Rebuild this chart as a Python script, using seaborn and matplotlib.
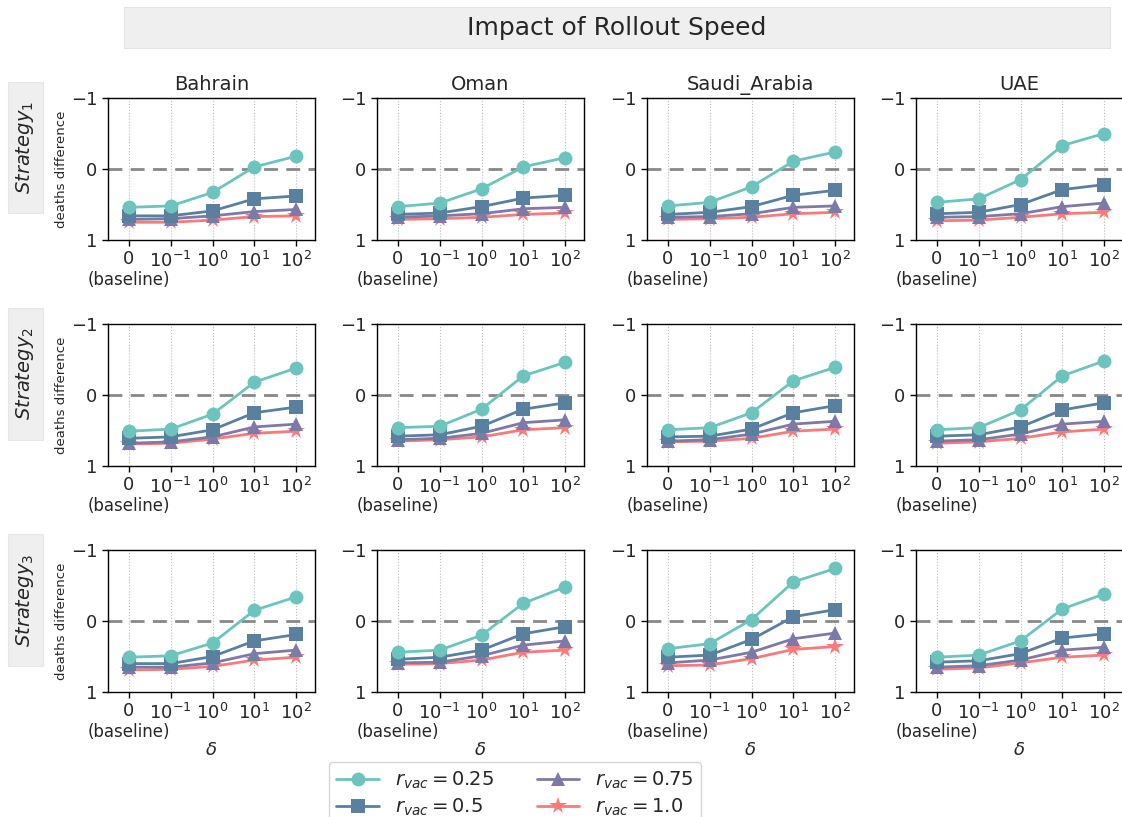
import numpy as np
import pandas as pd
import matplotlib
matplotlib.use("Agg")
import matplotlib.pyplot as plt
from matplotlib.lines import Line2D
from matplotlib.patches import Rectangle
import seaborn as sns

countries = ["Bahrain", "Oman", "Saudi_Arabia", "UAE"]
strategies = ["$Strategy_1$", "$Strategy_2$", "$Strategy_3$"]
x_labels = ["0", "$10^{-1}$", "$10^{0}$", "$10^{1}$", "$10^{2}$"]
baseline_label = "(baseline)"
rvac_labels = ["$r_{vac}=0.25$", "$r_{vac}=0.5$", "$r_{vac}=0.75$", "$r_{vac}=1.0$"]

# values: [strategy][country][rvac] -> 5 points
s1_bahrain = [[0.54, 0.52, 0.33, -0.03, -0.18], [0.66, 0.66, 0.59, 0.42, 0.38],
              [0.71, 0.70, 0.66, 0.60, 0.57], [0.75, 0.75, 0.72, 0.67, 0.66]]
s1_oman = [[0.53, 0.48, 0.28, -0.03, -0.16], [0.64, 0.62, 0.53, 0.41, 0.37],
           [0.68, 0.66, 0.63, 0.56, 0.54], [0.71, 0.70, 0.68, 0.64, 0.62]]
s1_saudi = [[0.52, 0.47, 0.25, -0.11, -0.24], [0.64, 0.61, 0.53, 0.37, 0.30],
            [0.68, 0.67, 0.63, 0.54, 0.52], [0.71, 0.70, 0.68, 0.63, 0.61]]
s1_uae = [[0.47, 0.42, 0.15, -0.33, -0.50], [0.63, 0.61, 0.50, 0.29, 0.22],
          [0.68, 0.67, 0.63, 0.53, 0.48], [0.73, 0.72, 0.68, 0.63, 0.61]]

s2_bahrain = [[0.51, 0.48, 0.27, -0.18, -0.38], [0.61, 0.59, 0.49, 0.25, 0.17],
              [0.68, 0.66, 0.59, 0.45, 0.41], [0.69, 0.68, 0.62, 0.54, 0.51]]
s2_oman = [[0.46, 0.44, 0.20, -0.27, -0.46], [0.58, 0.56, 0.44, 0.20, 0.11],
           [0.63, 0.61, 0.54, 0.39, 0.35], [0.65, 0.63, 0.59, 0.49, 0.46]]
s2_saudi = [[0.49, 0.46, 0.25, -0.20, -0.39], [0.59, 0.58, 0.48, 0.25, 0.15],
            [0.65, 0.63, 0.55, 0.41, 0.37], [0.66, 0.65, 0.61, 0.51, 0.48]]
s2_uae = [[0.49, 0.46, 0.21, -0.27, -0.48], [0.58, 0.56, 0.45, 0.21, 0.11],
          [0.65, 0.63, 0.55, 0.41, 0.37], [0.68, 0.66, 0.61, 0.52, 0.48]]

s3_bahrain = [[0.51, 0.49, 0.31, -0.15, -0.34], [0.60, 0.60, 0.50, 0.28, 0.19],
              [0.65, 0.65, 0.59, 0.46, 0.41], [0.69, 0.68, 0.64, 0.55, 0.51]]
s3_oman = [[0.44, 0.41, 0.20, -0.25, -0.48], [0.54, 0.51, 0.41, 0.18, 0.08],
           [0.59, 0.58, 0.49, 0.34, 0.28], [0.61, 0.60, 0.55, 0.44, 0.41]]
s3_saudi = [[0.39, 0.32, -0.02, -0.55, -0.74], [0.51, 0.48, 0.26, -0.06, -0.16],
            [0.59, 0.55, 0.44, 0.25, 0.17], [0.63, 0.62, 0.53, 0.40, 0.36]]
s3_uae = [[0.51, 0.48, 0.28, -0.17, -0.38], [0.58, 0.56, 0.46, 0.24, 0.18],
          [0.65, 0.63, 0.55, 0.41, 0.37], [0.68, 0.66, 0.59, 0.51, 0.48]]

all_data = [[s1_bahrain, s1_oman, s1_saudi, s1_uae],
            [s2_bahrain, s2_oman, s2_saudi, s2_uae],
            [s3_bahrain, s3_oman, s3_saudi, s3_uae]]

colors = ["#6cc4bc", "#5a80a0", "#7e7aa8", "#f87a7b"]
markers = ["o", "s", "^", "*"]
msizes = [10, 10, 10, 13]

sns.set_style("ticks")
plt.rcParams["font.family"] = ["DejaVu Sans"]
plt.rcParams["mathtext.fontset"] = "dejavusans"

W, H = 1122, 817
fig = plt.figure(figsize=(W / 100, H / 100), dpi=100)

col_left = [108, 377, 647, 916]
row_top = [98, 324, 550]
aw, ah = 207, 142

# title box
fig.patches.append(Rectangle((124 / W, 1 - 48 / H), (1110 - 124) / W, 41 / H,
                             transform=fig.transFigure, facecolor="#efefef",
                             edgecolor="#e4e4e4", lw=0.8, zorder=0))
fig.text((124 + 1110) / 2 / W, 1 - 27.5 / H, "Impact of Rollout Speed",
         ha="center", va="center", fontsize=18)

row_box = [(82, 213), (308, 440), (534, 666)]

for r in range(3):
    y0, y1 = row_box[r]
    fig.patches.append(Rectangle((8 / W, 1 - y1 / H), 35 / W, (y1 - y0) / H,
                                 transform=fig.transFigure, facecolor="#efefef",
                                 edgecolor="#e6e6e6", lw=0.8, zorder=0))
    fig.text(25.5 / W, 1 - (y0 + y1) / 2 / H, strategies[r], rotation=90,
             ha="center", va="center", fontsize=14)
    for c in range(4):
        ax = fig.add_axes([col_left[c] / W, 1 - (row_top[r] + ah) / H, aw / W, ah / H])
        rows = []
        for k in range(4):
            for i, v in enumerate(all_data[r][c][k]):
                rows.append({"x": i, "y": v, "r": rvac_labels[k]})
        df = pd.DataFrame(rows)
        for k in range(4):
            sns.lineplot(data=df[df["r"] == rvac_labels[k]], x="x", y="y",
                         color=colors[k], marker=markers[k], markersize=msizes[k],
                         markeredgewidth=0, linewidth=2, ax=ax, zorder=3 + (3 - k) * 0.1)
        ax.axhline(0, color="#888888", ls=(0, (5, 3)), lw=2, zorder=2)
        ax.set_xlim(-0.5, 4.45)
        ax.set_ylim(1, -1)
        ax.set_yticks([-1, 0, 1])
        ax.set_yticklabels(["\u22121", "0", "1"], fontsize=13)
        ax.set_xticks(range(5))
        ax.set_xticklabels(x_labels, fontsize=13)
        ax.annotate(baseline_label, xy=(0, 0), xycoords=("data", "axes fraction"),
                    xytext=(0, -22), textcoords="offset points",
                    ha="center", va="top", fontsize=12, color="#262626")
        ax.grid(axis="x", ls=":", color="#bbbbbb", lw=0.8)
        ax.set_xlabel("$\\delta$" if r == 2 else "", fontsize=13, labelpad=13)
        if c == 0:
            ax.set_ylabel("deaths difference", fontsize=9.5, labelpad=2)
        else:
            ax.set_ylabel("")
        if r == 0:
            ax.set_title(countries[c], fontsize=14, pad=6)
        for sp in ax.spines.values():
            sp.set_color("black")
            sp.set_linewidth(1)
        ax.tick_params(axis="both", length=4, width=1, color="black")

handles = [Line2D([0], [0], color=colors[k], marker=markers[k], markersize=msizes[k],
                  markeredgewidth=0, lw=2) for k in range(4)]
fig.legend(handles, rvac_labels, loc="upper center", ncol=2,
           bbox_to_anchor=(515 / W, 1 - 752 / H), fontsize=14, frameon=True,
           handlelength=2.2, columnspacing=2.2, borderpad=0.4, labelspacing=0.3)

fig.savefig("out.png", dpi=100)
